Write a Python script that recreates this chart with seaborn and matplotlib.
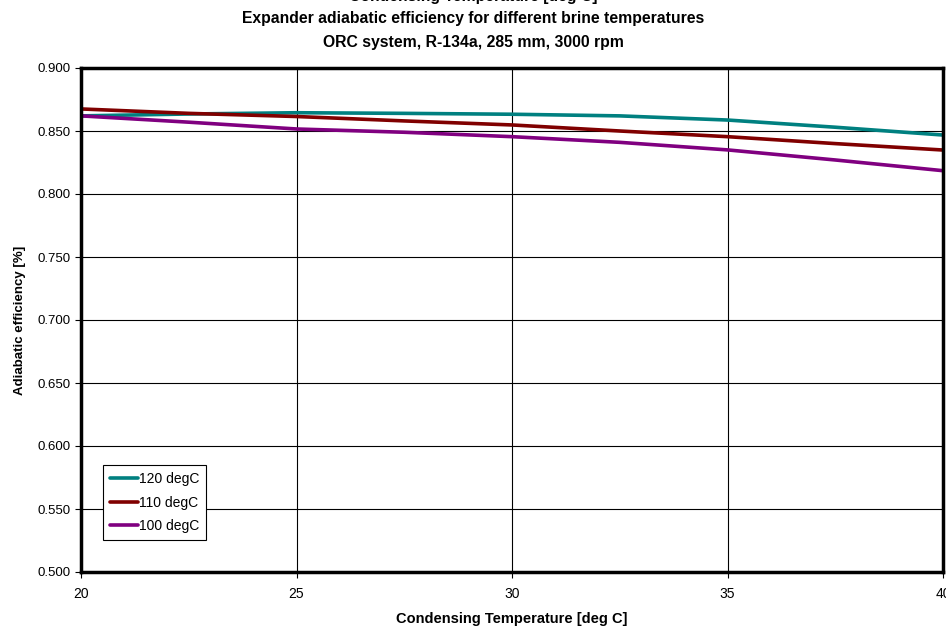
import matplotlib
matplotlib.use("Agg")
import matplotlib.pyplot as plt
import matplotlib.ticker as mticker
import numpy as np
import pandas as pd
import seaborn as sns

# Condensing temperature [deg C]
cond_temp = [20, 22.5, 25, 27.5, 30, 32.5, 35, 37.5, 40]

# Adiabatic efficiency per brine temperature
eff_120 = [0.862, 0.8635, 0.8645, 0.8640, 0.8633, 0.8620, 0.8587, 0.8530, 0.8468]
eff_110 = [0.8675, 0.8640, 0.8615, 0.8580, 0.8548, 0.8500, 0.8455, 0.8400, 0.8349]
eff_100 = [0.862, 0.8570, 0.8516, 0.8490, 0.8455, 0.8410, 0.8350, 0.8270, 0.8185]

series_names = ["120 degC", "110 degC", "100 degC"]
series_colors = ["#008080", "#800000", "#800080"]

y_ticks = [0.500, 0.550, 0.600, 0.650, 0.700, 0.750, 0.800, 0.850, 0.900]
x_ticks = [20, 25, 30, 35, 40]

df = pd.concat(
    [pd.DataFrame({"Condensing Temperature": cond_temp, "Efficiency": vals, "Brine": name})
     for name, vals in zip(series_names, [eff_120, eff_110, eff_100])],
    ignore_index=True,
)

sns.set_theme(style="white")
plt.rcParams["font.family"] = ["Liberation Sans", "DejaVu Sans"]
plt.rcParams["text.color"] = "black"
plt.rcParams["axes.labelcolor"] = "black"
plt.rcParams["xtick.color"] = "black"
plt.rcParams["ytick.color"] = "black"

fig = plt.figure(figsize=(9.46, 6.31), dpi=100)
ax = fig.add_axes([81 / 946, 1 - 572 / 631, (943 - 81) / 946, (572 - 68) / 631])

sns.lineplot(
    data=df, x="Condensing Temperature", y="Efficiency", hue="Brine",
    hue_order=series_names, palette=series_colors, linewidth=2.6, ax=ax,
)

ax.set_xlim(20, 40)
ax.set_ylim(0.5, 0.9)
ax.set_xticks(x_ticks)
ax.set_yticks(y_ticks)
ax.yaxis.set_major_formatter(mticker.FormatStrFormatter("%.3f"))
ax.grid(True, color="black", linewidth=0.8)
ax.set_axisbelow(True)

for sp in ax.spines.values():
    sp.set_color("black")
    sp.set_linewidth(2.5)

ax.tick_params(axis="both", which="major", direction="out", length=4, width=0.8,
               color="black", labelsize=9.5, labelcolor="black", left=True, bottom=True)
ax.tick_params(axis="x", pad=7, labelsize=10)

ax.set_xlabel("Condensing Temperature [deg C]", fontsize=10.5, fontweight="bold",
              color="black", labelpad=8)
ax.set_ylabel("Adiabatic efficiency [%]", fontsize=9.5, fontweight="bold",
              color="black", labelpad=8)

title_kw = dict(ha="center", va="center", fontsize=11.3, fontweight="bold", color="black")
fig.text(0.5, 1.006, "Condensing Temperature [deg C]", **title_kw)
fig.text(0.5, 1 - 19 / 631, "Expander adiabatic efficiency for different brine temperatures",
         **title_kw)
fig.text(0.5, 1 - 43 / 631, "ORC system, R-134a, 285 mm, 3000 rpm", **title_kw)

leg = ax.legend(loc="lower left", bbox_to_anchor=(22 / 862, 32 / 504), fontsize=10,
                frameon=True, fancybox=False, framealpha=1, edgecolor="black",
                handlelength=2.0, handletextpad=0.1, borderpad=0.5, labelspacing=0.68,
                borderaxespad=0)
leg.get_frame().set_linewidth(0.8)
for line in leg.get_lines():
    line.set_linewidth(2.6)

fig.savefig("out.png", dpi=100, facecolor="white")
